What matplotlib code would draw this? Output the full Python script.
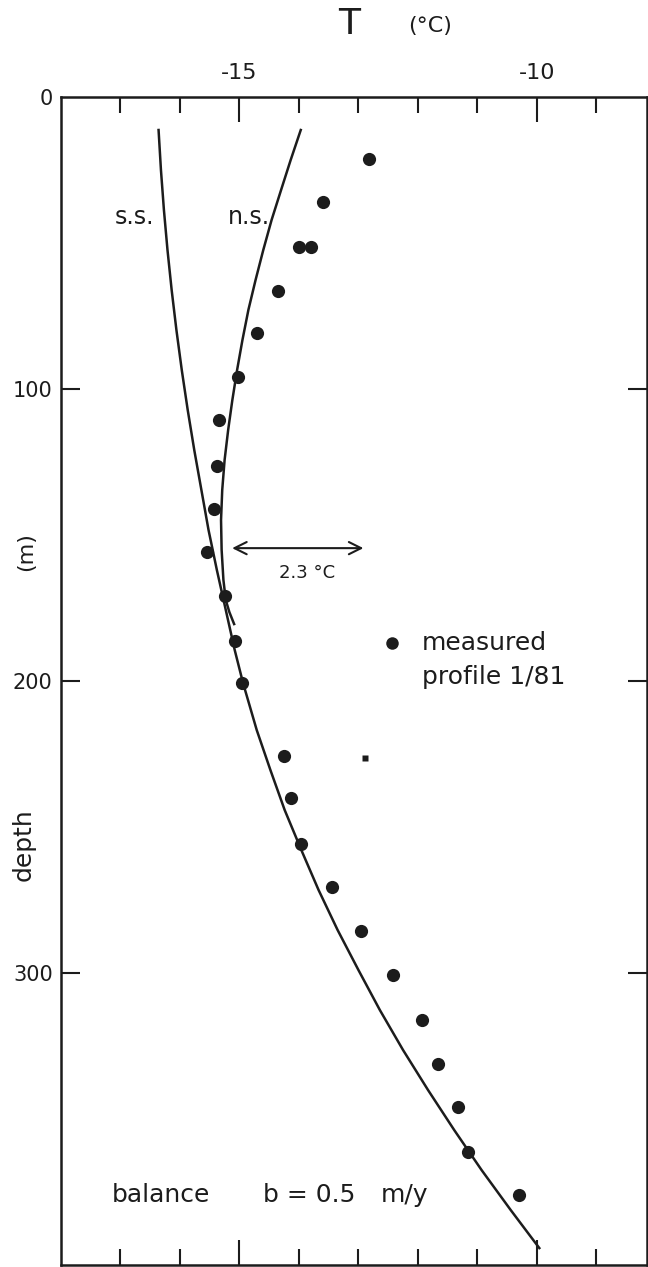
import matplotlib
matplotlib.use("Agg")
import matplotlib.pyplot as plt
from matplotlib.ticker import FixedLocator

plt.rcParams['font.family'] = ['DejaVu Sans']

# measured profile 1/81 (temperature degC, depth m)
meas_T = [-12.82, -13.59, -14.00, -13.79, -14.35, -14.70, -15.03, -15.35, -15.37,
          -15.42, -15.55, -15.25, -15.07, -14.95, -14.26, -14.14, -13.97, -13.45,
          -12.96, -12.42, -11.94, -11.67, -11.33, -11.16, -10.30]
meas_d = [21.2, 36.0, 51.3, 51.3, 66.4, 80.8, 95.9, 110.6, 126.4,
          141.0, 155.8, 170.9, 186.3, 200.7, 225.7, 240.0, 255.8, 270.5,
          285.6, 300.7, 316.0, 331.0, 346.0, 361.3, 376.0]

# small printed speck
speck_T = [-12.89]
speck_d = [226.4]

# steady state model (s.s.)
ss_T = [-16.36, -16.32, -16.27, -16.21, -16.14, -16.06, -15.97, -15.87, -15.76,
        -15.64, -15.52, -15.38, -15.23, -15.08, -14.94, -14.71, -14.48, -14.24,
        -13.96, -13.67, -13.35, -13.00, -12.64, -12.25, -11.83, -11.39, -10.93,
        -10.44, -9.96]
ss_d = [11.3, 25.0, 38.7, 52.4, 66.1, 79.8, 93.5, 107.2, 120.9,
        134.6, 148.3, 162.0, 175.7, 189.4, 200.7, 216.8, 230.5, 244.2,
        257.9, 271.6, 285.3, 299.0, 312.7, 326.4, 340.1, 353.8, 367.5,
        381.2, 394.2]

# non-steady state model (n.s.)
ns_T = [-13.97, -14.14, -14.30, -14.46, -14.60, -14.73, -14.85, -14.95, -15.04,
        -15.12, -15.19, -15.25, -15.29, -15.31, -15.30, -15.27, -15.23, -15.17,
        -15.09]
ns_d = [11.3, 21.6, 31.8, 42.1, 52.4, 62.7, 72.9, 83.2, 93.5,
        103.8, 114.0, 124.3, 134.6, 144.9, 155.1, 165.4, 172.3, 176.4,
        180.5]

depth_ticks = [0, 100, 200, 300]
temp_major = [-15, -10]
temp_minor = [-17, -16, -14, -13, -12, -11, -9]

ink = '#1c1c1c'

fig = plt.figure(figsize=(6.48, 12.67), dpi=100)
ax = fig.add_axes([61 / 648, 2 / 1267, 586 / 648, 1168 / 1267])

ax.plot(ss_T, ss_d, color=ink, lw=1.8, solid_joinstyle='round')
ax.plot(ns_T, ns_d, color=ink, lw=1.8, solid_joinstyle='round')
ax.plot(meas_T, meas_d, 'o', color=ink, ms=9.5, mec='none')
ax.plot(speck_T, speck_d, 's', color=ink, ms=4, mec='none')

ax.set_xlim(-18.0, -8.15)
ax.set_ylim(400, 0)

for s in ax.spines.values():
    s.set_linewidth(1.8)
    s.set_color(ink)

ax.xaxis.set_major_locator(FixedLocator(temp_major))
ax.xaxis.set_minor_locator(FixedLocator(temp_minor))
ax.tick_params(axis='x', which='major', direction='in', top=True, bottom=True,
               labeltop=True, labelbottom=False, length=18, width=1.5,
               color=ink, pad=10, labelsize=16, labelcolor=ink)
ax.tick_params(axis='x', which='minor', direction='in', top=True, bottom=True,
               length=11.5, width=1.5, color=ink)
ax.set_xticklabels(['-15', '-10'])

ax.set_yticks(depth_ticks)
ax.tick_params(axis='y', direction='in', left=True, right=True, length=14,
               width=1.5, color=ink, pad=6, labelsize=15, labelcolor=ink)
# no tick mark at the corner, only the label "0"
first = ax.yaxis.get_major_ticks()[0]
first.tick1line.set_visible(False)
first.tick2line.set_visible(False)

# axis titles
fig.text(349 / 648, 1 - 24 / 1267, 'T', fontsize=26, color=ink, ha='center', va='center')
fig.text(430 / 648, 1 - 26 / 1267, '(°C)', fontsize=16, color=ink, ha='center', va='center')
fig.text(24 / 648, 1 - 845 / 1267, 'depth', fontsize=18, color=ink, rotation=90,
         ha='center', va='center')
fig.text(26 / 648, 1 - 552 / 1267, '(m)', fontsize=16, color=ink, rotation=90,
         ha='center', va='center')

# curve labels
ax.text(-16.76, 41, 's.s.', fontsize=17, color=ink, ha='center', va='center')
ax.text(-14.84, 41, 'n.s.', fontsize=17, color=ink, ha='center', va='center')

# difference arrow
ax.annotate('', xy=(-15.17, 154.5), xytext=(-12.87, 154.5),
            arrowprops=dict(arrowstyle='<->', color=ink, lw=1.5,
                            mutation_scale=22))
ax.text(-13.87, 163, '2.3 °C', fontsize=13, color=ink, ha='center', va='center')

# legend
ax.plot([-12.44], [187], 'o', color=ink, ms=9, mec='none')
ax.text(-11.93, 187, 'measured', fontsize=18, color=ink, ha='left', va='center')
ax.text(-11.93, 198.6, 'profile 1/81', fontsize=18, color=ink, ha='left', va='center')

ax.text(-17.14, 376, 'balance', fontsize=18, color=ink, ha='left', va='center')
ax.text(-14.6, 376, 'b = 0.5', fontsize=18, color=ink, ha='left', va='center')
ax.text(-12.63, 376, 'm/y', fontsize=18, color=ink, ha='left', va='center')

fig.savefig('out.png', dpi=100, facecolor='white')
